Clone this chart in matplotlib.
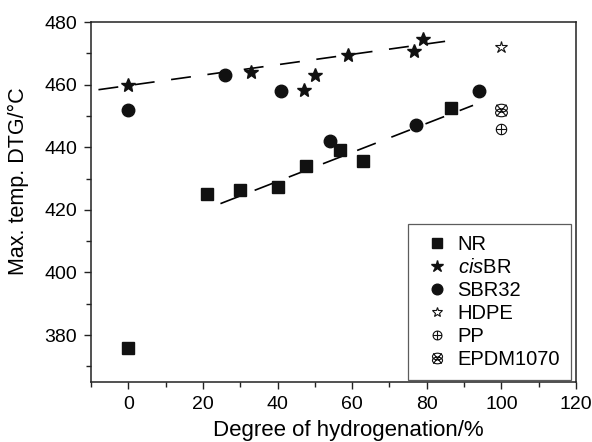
import numpy as np
import matplotlib
matplotlib.use("Agg")
import matplotlib.pyplot as plt
from matplotlib.path import Path
from matplotlib.ticker import MultipleLocator

plt.rcParams["font.family"] = ["Liberation Sans", "DejaVu Sans"]
plt.rcParams["mathtext.fontset"] = "custom"
plt.rcParams["mathtext.rm"] = "Liberation Sans"
plt.rcParams["mathtext.it"] = "Liberation Sans:italic"

# -- data ------------------------------------------------------------------
nr_x = [0, 21, 30, 40, 47.5, 56.7, 63, 86.6]
nr_y = [376, 425, 426.5, 427.3, 434, 439.2, 435.6, 452.4]

cis_x = [0, 33, 47, 50, 59, 76.5, 79]
cis_y = [460, 464.2, 458.2, 463.2, 469.5, 470.7, 474.6]

sbr_x = [0, 26, 41, 54, 77, 94]
sbr_y = [452, 463, 458, 442, 447, 458]

hdpe_x, hdpe_y = [100], [472]
pp_x, pp_y = [100], [446]
epdm_x, epdm_y = [100], [452]

# dashed trend lines (end points)
fit_upper_x = [-8, 87]
fit_upper_y = [458.4, 474.2]
fit_lower_x = [24.7, 92.4]
fit_lower_y = [422.0, 453.4]

# -- custom markers ----------------------------------------------------------
t = np.linspace(0, 2 * np.pi, 41)
circ = Path(np.column_stack([np.cos(t), np.sin(t)]))
plus = Path([(-1, 0), (1, 0), (0, -1), (0, 1)],
            [Path.MOVETO, Path.LINETO, Path.MOVETO, Path.LINETO])
pp_marker = Path.make_compound_path(circ, plus)

# EPDM: two stacked flat ellipses with an X through them
c_up = Path(np.column_stack([0.9 * np.cos(t), 0.6 * np.sin(t) + 0.35]))
c_dn = Path(np.column_stack([0.9 * np.cos(t), 0.6 * np.sin(t) - 0.35]))
cross = Path([(-0.75, -0.9), (0.75, 0.9), (-0.75, 0.9), (0.75, -0.9)],
             [Path.MOVETO, Path.LINETO, Path.MOVETO, Path.LINETO])
epdm_marker = Path.make_compound_path(c_up, c_dn, cross)

# -- figure ------------------------------------------------------------------
fig = plt.figure(figsize=(5.92, 4.42), dpi=100)
ax = fig.add_axes([0.1537, 0.1357, 0.8193, 0.8143])

dash = dict(color="black", lw=1.2, dashes=(12, 10))
ax.plot(fit_upper_x, fit_upper_y, **dash)
ax.plot(fit_lower_x, fit_lower_y, **dash)

ax.plot(nr_x, nr_y, "s", color="#111111", ms=8, ls="none", label="NR")
ax.plot(cis_x, cis_y, "*", color="#111111", ms=10.5, ls="none",
        label=r"$\it{cis}$BR")
ax.plot(sbr_x, sbr_y, "o", color="#111111", ms=9, ls="none", label="SBR32")
ax.plot(hdpe_x, hdpe_y, "*", mfc="white", mec="#111111", mew=0.8, ms=9,
        ls="none", label="HDPE")
ax.plot(pp_x, pp_y, marker=pp_marker, mfc="none", mec="#111111", mew=0.8,
        ms=7.5, ls="none", label="PP")
ax.plot(epdm_x, epdm_y, marker=epdm_marker, mfc="none", mec="#111111",
        mew=0.8, ms=9, ls="none", label="EPDM1070")

ax.set_xlim(-10, 120)
ax.set_ylim(365, 480)
ax.xaxis.set_major_locator(MultipleLocator(20))
ax.xaxis.set_minor_locator(MultipleLocator(10))
ax.yaxis.set_major_locator(MultipleLocator(20))
ax.yaxis.set_minor_locator(MultipleLocator(10))
ax.tick_params(which="both", direction="out", top=False, right=False,
               labelsize=14, width=1, color="#222222")
ax.tick_params(which="major", length=5, pad=5)
ax.tick_params(which="minor", length=3.5)
for s in ax.spines.values():
    s.set_linewidth(1.1)
    s.set_color("#222222")

ax.set_xlabel("Degree of hydrogenation/%", fontsize=16)
ax.set_ylabel("Max. temp. DTG/°C", fontsize=15.5)
ax.xaxis.set_label_coords(0.53, -0.105)
ax.yaxis.set_label_coords(-0.128, 0.557)

ax.legend(loc="lower right", bbox_to_anchor=(0.99, 0.006),
          borderaxespad=0, fancybox=False, edgecolor="#333333",
          fontsize=14.5, handlelength=1.8, handletextpad=0.1,
          borderpad=0.55, labelspacing=0.2, frameon=True,
          markerscale=0.85).get_frame().set_linewidth(0.9)

fig.savefig("out.png", dpi=100)
